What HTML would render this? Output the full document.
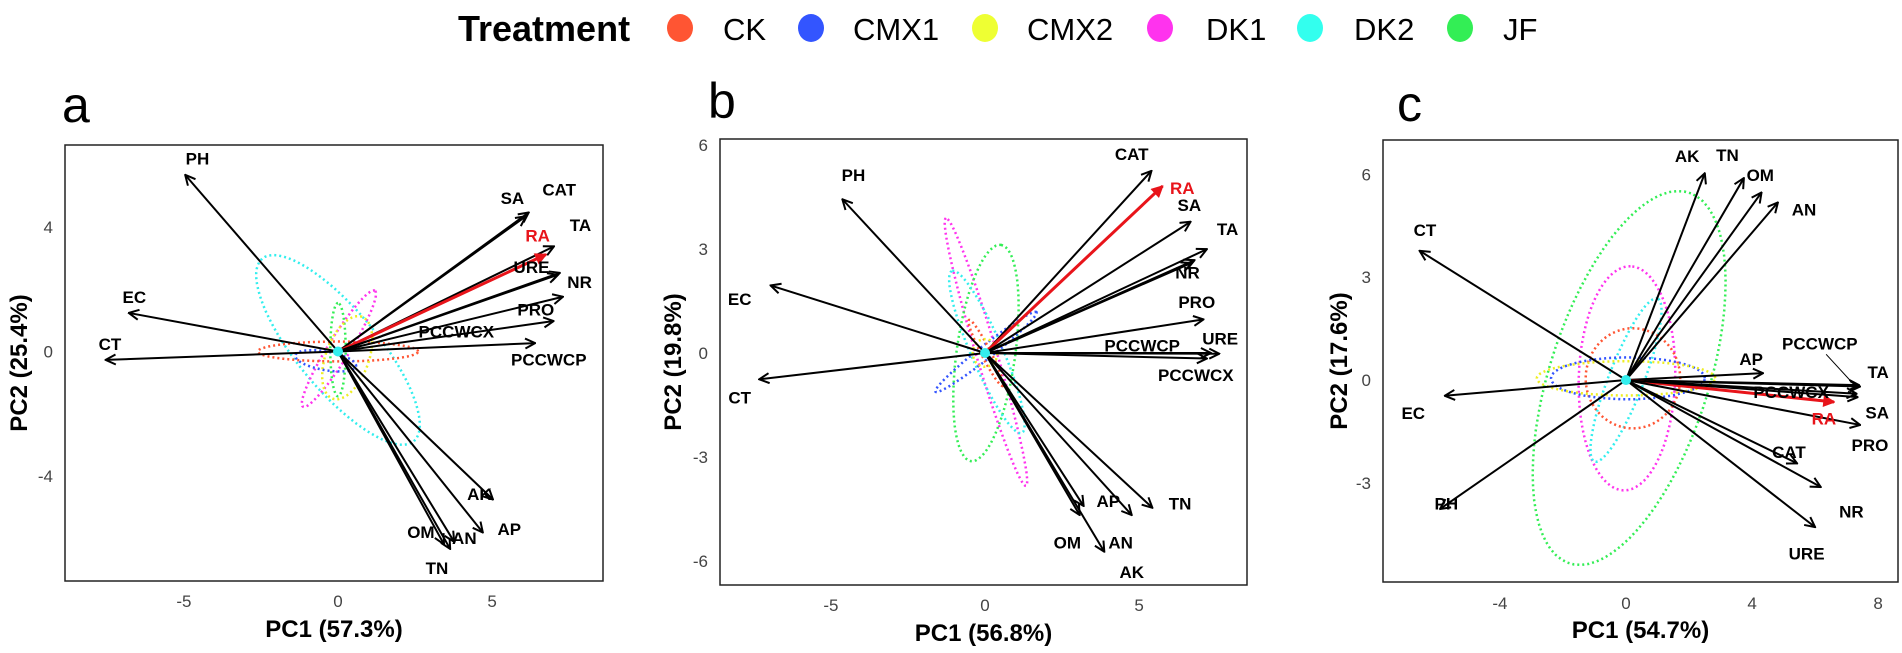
<!DOCTYPE html>
<html><head><meta charset="utf-8"><style>
html,body{margin:0;padding:0;background:#fff;}
svg{display:block;font-family:"Liberation Sans",Arial,sans-serif;}
</style></head><body>
<svg id="fig" width="1902" height="653" viewBox="0 0 1902 653" xmlns="http://www.w3.org/2000/svg">
<defs>
<marker id="ah" viewBox="0 0 12 12" refX="11" refY="6" markerWidth="12" markerHeight="12" markerUnits="userSpaceOnUse" orient="auto"><path d="M1,1 L11,6 L1,11" fill="none" stroke="#000" stroke-width="2"/></marker>
<marker id="ahr" viewBox="0 0 12 12" refX="11" refY="6" markerWidth="12" markerHeight="12" markerUnits="userSpaceOnUse" orient="auto"><path d="M1,1 L11,6 L1,11 Z" fill="#e8141a" stroke="#e8141a" stroke-width="1.5"/></marker>
</defs>
<g>
<text x="458" y="41" font-size="36" font-weight="bold">Treatment</text>
<g><ellipse cx="680" cy="28" rx="13" ry="14" fill="#ff5533"/><text x="723" y="40" font-size="31">CK</text></g>
<g><ellipse cx="811" cy="28" rx="13" ry="14" fill="#3355ff"/><text x="853" y="40" font-size="31">CMX1</text></g>
<g><ellipse cx="985" cy="28" rx="13" ry="14" fill="#eeff33"/><text x="1027" y="40" font-size="31">CMX2</text></g>
<g><ellipse cx="1160" cy="28" rx="13" ry="14" fill="#ff33ee"/><text x="1206" y="40" font-size="31">DK1</text></g>
<g><ellipse cx="1310" cy="28" rx="13" ry="14" fill="#33ffee"/><text x="1354" y="40" font-size="31">DK2</text></g>
<g><ellipse cx="1460" cy="28" rx="13" ry="14" fill="#33ee55"/><text x="1503" y="40" font-size="31">JF</text></g>
</g>
</svg>
<script>
// ---- Panel a data ----
const aNames=["PH","EC","CT","SA","CAT","TA","RA","URE","NR","PRO","PCCWCX","PCCWCP","AK","AP","AN","TN","OM"];
const aPC1=[-4.96,-6.79,-7.54,6.19,6.1,7.01,6.75,7.2,7.14,7.3,7.0,6.4,5.03,4.7,3.77,3.64,3.44];
const aPC2=[5.68,1.24,-0.27,4.47,4.35,3.38,3.12,2.53,2.47,1.76,0.98,0.27,-4.76,-5.82,-6.12,-6.35,-6.2];
const aLabX=[-4.56,-6.61,-7.4,5.66,7.18,7.87,6.48,6.28,7.84,6.42,3.84,6.84,4.59,5.56,4.1,3.21,2.69];
const aLabY=[6.2,1.76,0.24,4.94,5.21,4.06,3.73,2.71,2.24,1.35,0.65,-0.26,-4.59,-5.7,-6.0,-6.96,-5.8];
const aEllGroup=["DK2","DK1","CK","JF","CMX2","CMX1"];
const aEllCx=[0,0.03,0,0,0.3,-0.4];
const aEllCy=[0.05,0.09,0,0.06,-0.2,-0.3];
const aEllA=[3.83,2.2,2.6,1.5,1.4,1.0];
const aEllB=[1.3,0.35,0.32,0.25,0.7,0.3];
const aEllAng=[-50,58,0,90,70,-10];
const aXTicks=[-5,0,5];
const aYTicks=[-4,0,4];
// ---- Panel b data ----
const bNames=["PH","EC","CT","CAT","RA","SA","TA","NR","NR2","PRO","URE","PCCWCP","PCCWCX","AP","OM","AN","TN","AK"];
const bPC1=[-4.63,-6.96,-7.33,5.4,5.76,6.67,7.2,6.8,6.7,7.09,7.6,7.33,7.2,3.2,3.07,3.87,5.43,4.76];
const bPC2=[4.44,1.95,-0.76,5.26,4.82,3.79,3.0,2.68,2.6,0.97,-0.02,0,-0.16,-4.42,-4.68,-5.74,-4.47,-4.68];
const bLabX=[-4.27,-7.96,-7.96,4.76,6.4,6.63,7.87,6.57,null,6.87,7.63,5.1,6.84,4.0,2.67,4.4,6.33,4.76];
const bLabY=[5.14,1.56,-1.28,5.74,4.76,4.28,3.58,2.32,null,1.47,0.42,0.21,-0.63,-4.28,-5.47,-5.47,-4.34,-6.32];
const bEllGroup=["DK1","JF","DK2","CMX1","CK","CMX2"];
const bEllCx=[0.03,0.03,0.06,0.03,0.03,0];
const bEllCy=[0.03,0,0.03,0.03,0,0];
const bEllA=[4.08,3.16,2.6,2.0,1.1,0.4];
const bEllB=[0.33,0.95,0.5,0.2,0.15,0.4];
const bEllAng=[108.6,81,116,35,-60,0];
const bXTicks=[-5,0,5];
const bYTicks=[-6,-3,0,3,6];
// ---- Panel c data ----
const cNames=["PH","CT","EC","AK","TN","OM","AN","AP","PCCWCP","TA","PCCWCX","RA","SA","PRO","CAT","NR","URE"];
const cPC1=[-5.9,-6.55,-5.75,2.5,3.74,4.3,4.82,4.35,7.4,7.43,7.32,6.6,7.35,7.43,5.43,6.18,6.0];
const cPC2=[-3.76,3.77,-0.46,6.03,5.89,5.47,5.18,0.2,-0.15,-0.19,-0.4,-0.64,-0.5,-1.31,-2.43,-3.12,-4.29];
const cLabX=[-5.7,-6.38,-6.75,1.94,3.22,4.26,5.65,3.97,6.15,8.0,5.24,6.28,7.97,7.74,5.17,7.15,5.73];
const cLabY=[-3.6,4.38,-0.96,6.53,6.56,5.98,4.97,0.61,1.06,0.23,-0.35,-1.12,-0.94,-1.89,-2.1,-3.83,-5.06];
const cEllGroup=["JF","DK1","DK2","CK","CMX1","CMX2"];
const cEllCx=[0.1,0.03,0,0.22,0.06,0];
const cEllCy=[0.06,0.05,0,0.05,0.05,0.05];
const cEllA=[5.73,3.27,2.58,1.5,2.44,2.83];
const cEllB=[2.5,1.53,0.55,1.46,0.61,0.5];
const cEllAng=[70,88,67,0,0,0];
const cXTicks=[-4,0,4,8];
const cYTicks=[-3,0,3,6];

const groupColor={CK:"#ff5533",CMX1:"#3355ff",CMX2:"#eeee22",DK1:"#ff33ee",DK2:"#33eeee",JF:"#33ee55"};
const NS="http://www.w3.org/2000/svg";
const svg=document.getElementById('fig');
function mk(tag,attrs,parent){const e=document.createElementNS(NS,tag);for(const k in attrs)e.setAttribute(k,attrs[k]);parent.appendChild(e);return e;}

function panel(cfg){
  const g=mk('g',{},svg);
  
  
  const [L,T,R,B]=cfg.box;
  const sx=v=>L+(v-cfg.xd[0])/(cfg.xd[1]-cfg.xd[0])*(R-L);
  const sy=v=>B-(v-cfg.yd[0])/(cfg.yd[1]-cfg.yd[0])*(B-T);
  const lt=mk('text',{x:cfg.letter[0],y:cfg.letter[1],'font-size':50},g);lt.textContent=cfg.id;
  
  
  for(let i=0;i<cfg.eg.length;i++){
    const a=cfg.ea[i],b=cfg.eb[i],th=cfg.eang[i]*Math.PI/180;let d='';
    for(let k=0;k<=72;k++){const t=k/72*2*Math.PI;
      const x=cfg.ecx[i]+a*Math.cos(t)*Math.cos(th)-b*Math.sin(t)*Math.sin(th);
      const y=cfg.ecy[i]+a*Math.cos(t)*Math.sin(th)+b*Math.sin(t)*Math.cos(th);
      d+=(k?'L':'M')+sx(x).toFixed(1)+','+sy(y).toFixed(1);}
    const p=mk('path',{d:d+'Z',fill:'none',stroke:groupColor[cfg.eg[i]],'stroke-width':2.5,'stroke-dasharray':'2 3'},g);
    
    
  }
  for(let i=0;i<cfg.names.length;i++){
    const red=cfg.names[i]==='RA';
    const ln=mk('line',{x1:sx(0),y1:sy(0),x2:sx(cfg.px[i]),y2:sy(cfg.py[i]),stroke:red?'#e8141a':'#000','stroke-width':red?3:2,'marker-end':red?'url(#ahr)':'url(#ah)'},g);
    
    
  }
  mk('circle',{cx:sx(0),cy:sy(0),r:5,fill:'#33eeee'},g);
  for(let i=0;i<cfg.names.length;i++){
    if(cfg.lx[i]===null)continue;
    const red=cfg.names[i]==='RA';
    const t=mk('text',{x:sx(cfg.lx[i]),y:sy(cfg.ly[i])+6,'font-size':17,'font-weight':'bold','text-anchor':'middle',fill:red?'#e8141a':'#000'},g);
    t.textContent=cfg.names[i];
    
    
  }
  const fr=mk('rect',{x:L,y:T,width:R-L,height:B-T,fill:'none',stroke:'#222','stroke-width':1.5},g);
  
  
  for(const v of cfg.xt){const t=mk('text',{x:sx(v),y:cfg.xtY,'font-size':17,fill:'#444','text-anchor':'middle'},g);t.textContent=v;
    
    }
  for(const v of cfg.yt){const t=mk('text',{x:L-12,y:sy(v)+6,'font-size':17,fill:'#444','text-anchor':'end'},g);t.textContent=v;
    
    }
  const xt=mk('text',{x:(L+R)/2,y:cfg.xtitleY,'font-size':24,'font-weight':'bold','text-anchor':'middle'},g);xt.textContent=cfg.xtitle;
  
  
  const yt=mk('text',{x:0,y:0,'font-size':24,'font-weight':'bold','text-anchor':'middle',transform:`translate(${cfg.ytitleX},${(T+B)/2}) rotate(-90)`},g);yt.textContent=cfg.ytitle;
  
  
  return {sx,sy,g};
}
panel({id:'a',box:[65,145,603,581],xd:[-8.86,8.6],yd:[-7.38,6.64],letter:[62,122],names:aNames,px:aPC1,py:aPC2,lx:aLabX,ly:aLabY,eg:aEllGroup,ecx:aEllCx,ecy:aEllCy,ea:aEllA,eb:aEllB,eang:aEllAng,xt:aXTicks,yt:aYTicks,xtY:607,xtitle:'PC1 (57.3%)',xtitleY:637,ytitle:'PC2 (25.4%)',ytitleX:27});
panel({id:'b',box:[720,139,1247,585],xd:[-8.6,8.5],yd:[-6.7,6.18],letter:[708,118],names:bNames,px:bPC1,py:bPC2,lx:bLabX,ly:bLabY,eg:bEllGroup,ecx:bEllCx,ecy:bEllCy,ea:bEllA,eb:bEllB,eang:bEllAng,xt:bXTicks,yt:bYTicks,xtY:611,xtitle:'PC1 (56.8%)',xtitleY:641,ytitle:'PC2 (19.8%)',ytitleX:681});
const pc=panel({id:'c',box:[1383,140,1898,582],xd:[-7.71,8.63],yd:[-5.89,7.0],letter:[1397,121],names:cNames,px:cPC1,py:cPC2,lx:cLabX,ly:cLabY,eg:cEllGroup,ecx:cEllCx,ecy:cEllCy,ea:cEllA,eb:cEllB,eang:cEllAng,xt:cXTicks,yt:cYTicks,xtY:609,xtitle:'PC1 (54.7%)',xtitleY:638,ytitle:'PC2 (17.6%)',ytitleX:1347});
const ptr=mk('line',{x1:pc.sx(6.35),y1:pc.sy(0.75),x2:pc.sx(7.3),y2:pc.sy(-0.2),stroke:'#000','stroke-width':1},pc.g);


</script>
</body></html>
